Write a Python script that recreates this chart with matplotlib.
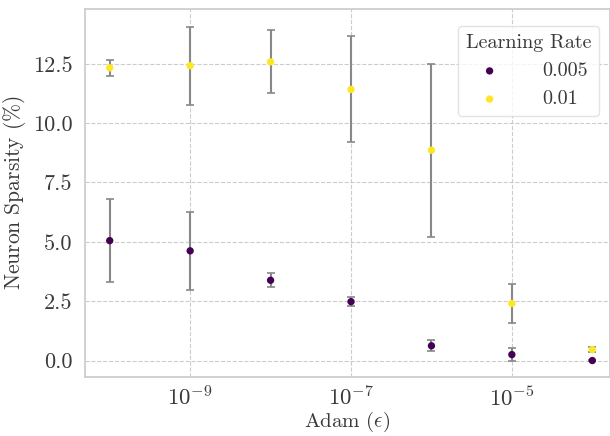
import matplotlib
matplotlib.use("Agg")
import matplotlib.pyplot as plt
import seaborn as sns
import numpy as np

sns.set_theme(style="whitegrid")
plt.rcParams['font.family'] = 'serif'
plt.rcParams['font.serif'] = ['cmr10']
plt.rcParams['mathtext.fontset'] = 'cm'
plt.rcParams['axes.formatter.use_mathtext'] = True
plt.rcParams['axes.unicode_minus'] = False

eps = [1e-10, 1e-9, 1e-8, 1e-7, 1e-6, 1e-5, 1e-4]
lr_labels = ["0.005", "0.01"]
sparsity_005 = [5.05, 4.62, 3.38, 2.48, 0.62, 0.25, 0.0]
err_005 = [1.75, 1.64, 0.30, 0.18, 0.23, 0.28, 0.03]
sparsity_01 = [12.33, 12.42, 12.58, 11.42, 8.86, 2.40, 0.46]
err_01 = [0.35, 1.64, 1.33, 2.23, 3.64, 0.83, 0.10]
colors = ["#440154", "#fde725"]
xticks = [1e-9, 1e-7, 1e-5]

text_color = '#3a3a3a'

fig, ax = plt.subplots(figsize=(6.1, 4.36), dpi=100)
for vals, errs, c, lab in [(sparsity_005, err_005, colors[0], lr_labels[0]),
                           (sparsity_01, err_01, colors[1], lr_labels[1])]:
    ax.errorbar(eps, vals, yerr=errs, fmt='none', ecolor='#888888', elinewidth=1.5,
                capsize=3, capthick=1.2, zorder=2)
    ax.scatter(eps, vals, color=c, s=28, edgecolor='none', zorder=3, label=lab)

ax.set_xscale('log')
ax.set_xlim(10**-10.31, 10**-3.78)
ax.set_ylim(-0.7, 14.82)
ax.set_xticks(xticks)
ax.xaxis.set_minor_locator(matplotlib.ticker.NullLocator())
ax.set_yticks([0.0, 2.5, 5.0, 7.5, 10.0, 12.5])
ax.yaxis.set_major_formatter(matplotlib.ticker.FormatStrFormatter('%.1f'))
ax.grid(True, linestyle='--', color='#cccccc', linewidth=0.8)
for s in ax.spines.values():
    s.set_color('#cccccc')
ax.tick_params(axis='y', labelsize=16, colors=text_color, pad=3)
ax.tick_params(axis='x', labelsize=16.5, colors=text_color, pad=0)
ax.set_xlabel(r'Adam ($\epsilon$)', fontsize=15, color=text_color, labelpad=0)
ax.set_ylabel(r'Neuron Sparsity ($\%$)', fontsize=15.5, color=text_color, labelpad=3)
leg = ax.legend(title='Learning Rate', loc='upper right', fontsize=14.5, title_fontsize=14.5,
                frameon=True, markerscale=1.0, handletextpad=1.6, borderaxespad=0.4,
                bbox_to_anchor=(0.995, 0.975))
for t in leg.get_texts():
    t.set_color(text_color)
leg.get_title().set_color(text_color)
leg.get_frame().set_edgecolor('#dddddd')

fig.subplots_adjust(left=0.139, right=1.0, top=0.98, bottom=0.135)
fig.savefig('out.png', dpi=100)
